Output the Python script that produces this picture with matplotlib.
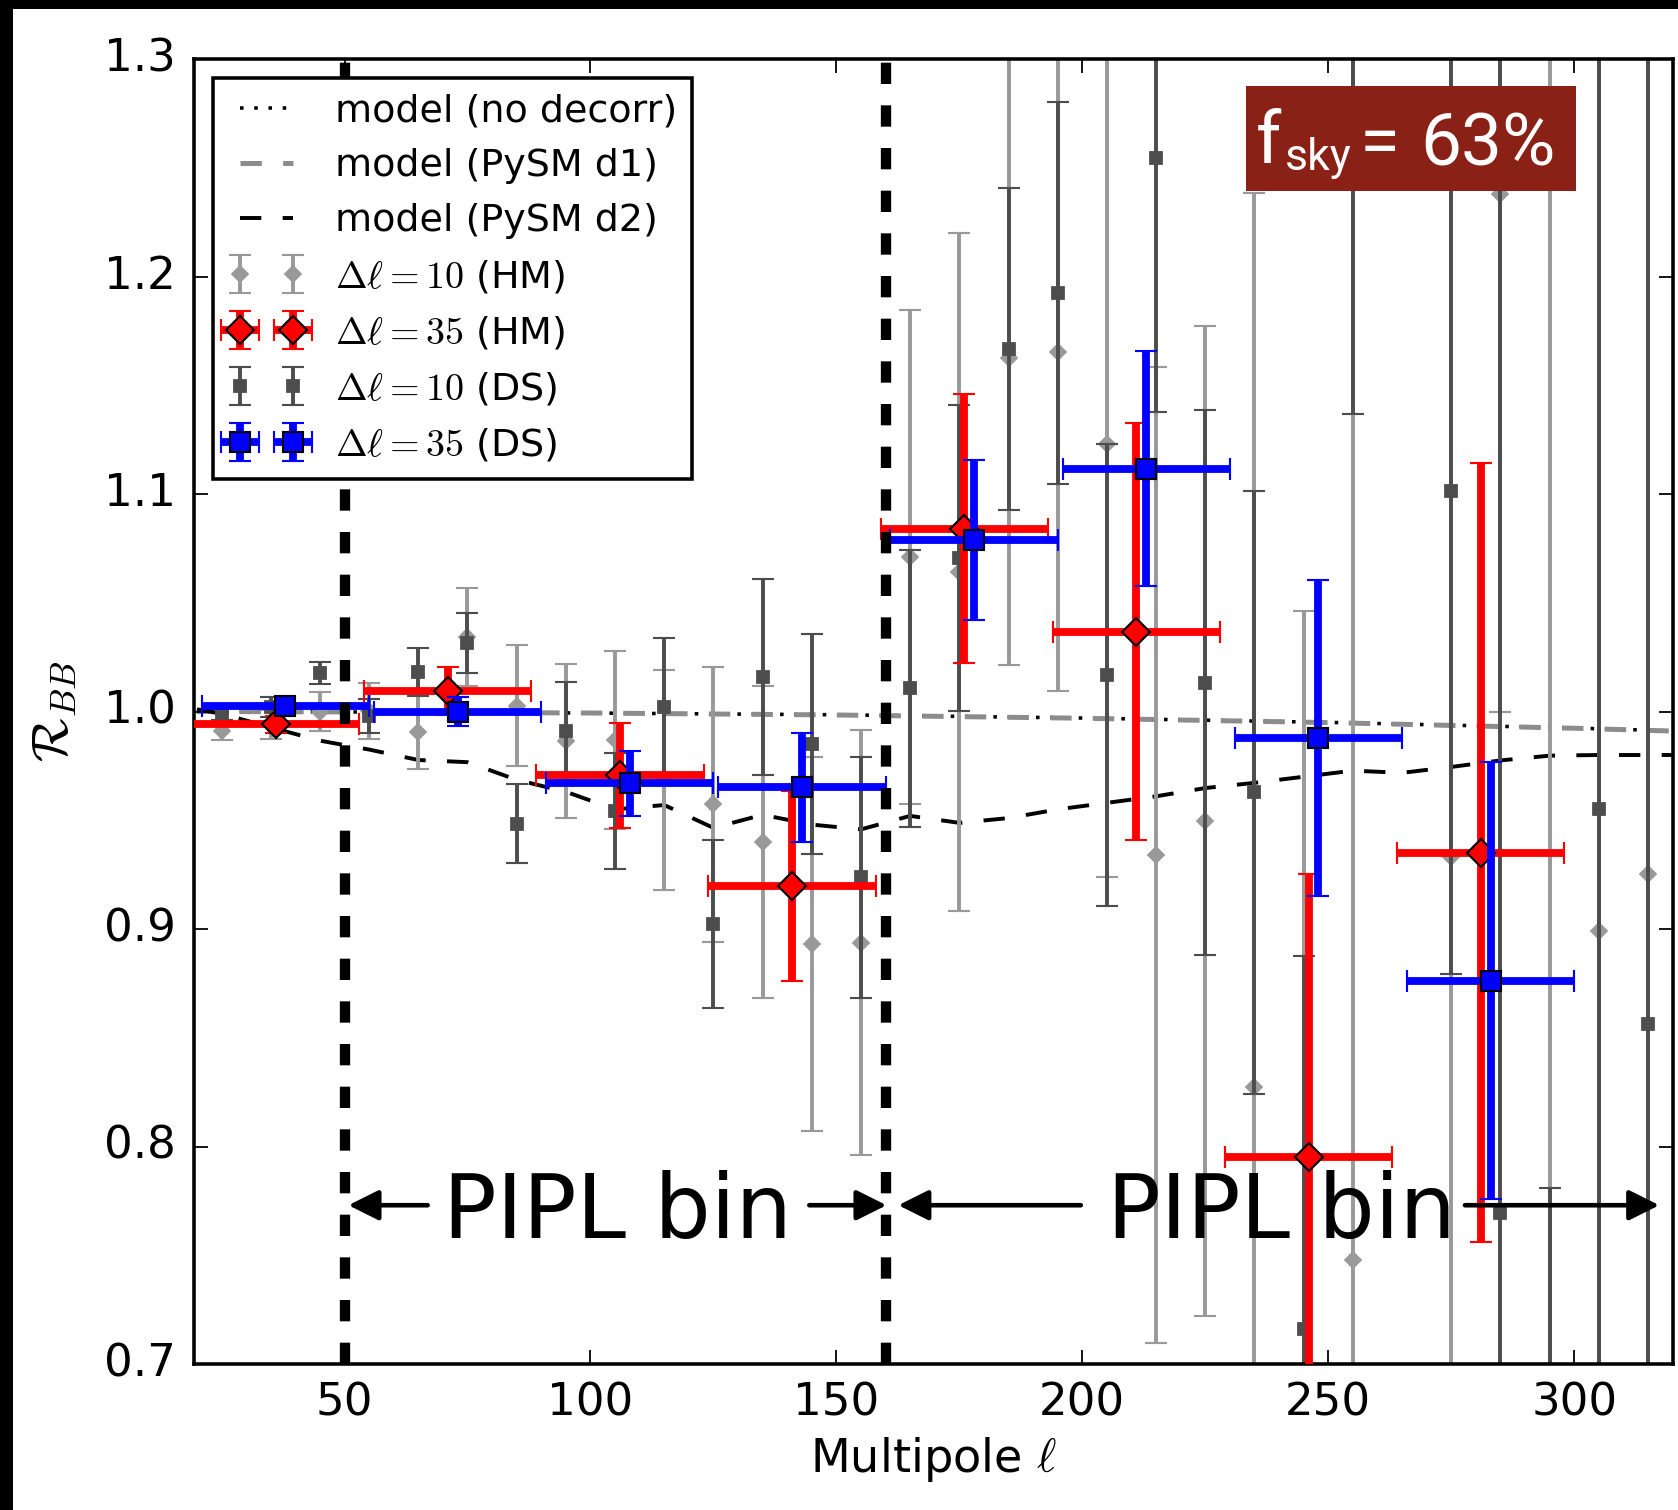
import numpy as np
import matplotlib
matplotlib.use("Agg")
import matplotlib.pyplot as plt
from matplotlib.patches import Rectangle

# ---------------------------------------------------------------- data
# Delta ell = 10 bins (half-mission and detector-set splits)
ell_10 = [25, 35, 45, 55, 65, 75, 85, 95, 105, 115, 125, 135, 145, 155, 165,
          175, 185, 195, 205, 215, 225, 235, 245, 255, 265, 275, 285, 295, 305, 315]

r_hm10 = [0.991, 0.994, 1.000, 1.0002, 0.9904, 1.0341, 1.0027, 0.9864, 0.987, 0.9686,
          0.9574, 0.9402, 0.8933, 0.8936, 1.0710, 1.0642, 1.1623, 1.1652, 1.1228, 0.9341,
          0.9498, 0.8273, 0.66, 0.748, np.nan, 0.933, 1.238, 1.35, 0.899, 0.9251]
e_hm10 = [0.004, 0.0066, 0.0088, 0.0128, 0.017, 0.0225, 0.0277, 0.0355, 0.041, 0.0505,
          0.0632, 0.0717, 0.086, 0.0977, 0.1137, 0.156, 0.141, 0.156, 0.199, 0.2243,
          0.2276, 0.411, 0.386, 0.60, np.nan, 0.55, 0.238, 0.70, 0.50, 0.50]

r_ds10 = [0.999, 1.002, 1.0178, 0.9978, 1.0183, 1.0316, 0.9485, 0.9911, 0.9543, 1.002,
          0.9024, 1.0159, 0.9851, 0.9237, 1.0106, 1.0706, 1.1668, 1.1925, 1.0168, 1.2544,
          1.0133, 0.9628, 0.716, 1.45, np.nan, 1.1015, 0.7696, 0.62, 0.9554, 0.8564]
e_ds10 = [0.003, 0.0046, 0.005, 0.0078, 0.011, 0.0138, 0.0183, 0.0226, 0.0265, 0.032,
          0.0387, 0.045, 0.0504, 0.0552, 0.0637, 0.0705, 0.074, 0.0877, 0.106, 0.1167,
          0.1254, 0.1387, 0.1716, 0.313, np.nan, 0.2224, 0.60, 0.161, 0.60, 0.60]

# Delta ell = 35 bins
ell_35_hm = [36, 71, 106, 141, 176, 211, 246, 281]
ell_35_ds = [38, 73, 108, 143, 178, 213, 248, 283]
half_width_35 = 17

r_hm35 = [0.9941, 1.0094, 0.9706, 0.9197, 1.0841, 1.0367, 0.7954, 0.9351]
e_hm35 = [0.004, 0.011, 0.0243, 0.0436, 0.062, 0.096, 0.130, 0.179]

r_ds35 = [1.0027, 0.9999, 0.967, 0.9651, 1.0787, 1.1116, 0.9877, 0.8763]
e_ds35 = [0.0025, 0.0067, 0.0149, 0.025, 0.0368, 0.054, 0.0726, 0.1003]

# model curves
ell_nodecorr = [20, 50, 100, 150, 200, 250, 300, 320]
r_nodecorr = [1.0000, 0.9998, 0.9993, 0.9985, 0.9970, 0.9950, 0.9924, 0.9911]

ell_d1 = [20, 50, 100, 150, 200, 250, 300, 320]
r_d1 = [1.0000, 0.9998, 0.9993, 0.9984, 0.9969, 0.9949, 0.9923, 0.9910]

ell_d2 = [20, 25, 35, 45, 55, 65, 75, 85, 95, 105, 115, 125, 135, 145, 155, 165,
          175, 185, 195, 205, 215, 225, 235, 245, 255, 265, 275, 285, 295, 305, 315, 320]
r_d2 = [1.001, 0.999, 0.9927, 0.9866, 0.9825, 0.9777, 0.9767, 0.9686, 0.9631, 0.955,
        0.957, 0.9465, 0.9525, 0.948, 0.9458, 0.952, 0.9488, 0.951, 0.955, 0.958,
        0.961, 0.9648, 0.9672, 0.970, 0.9728, 0.9718, 0.9745, 0.9775, 0.9797, 0.980,
        0.980, 0.980]

pipl_edges = [50, 160]

# ---------------------------------------------------------------- style
plt.style.use("classic")
plt.rcParams.update({
    "figure.facecolor": "white",
    "savefig.facecolor": "white",
    "font.family": ["DejaVu Sans"],
    "mathtext.fontset": "cm",
    "lines.scale_dashes": False,
})

W, H, DPI = 1678, 1510, 256
fig = plt.figure(figsize=(W / DPI, H / DPI), dpi=DPI)
ax = fig.add_axes([194 / W, 1 - 1364 / H, (1672.5 - 194) / W, (1364 - 59) / H])


def ax_frac(px, py):
    """Pixel position in the saved image -> axes fraction."""
    return (px - 194) / 1478.5, 1 - (py - 59) / 1305


# model curves
l_nd, = ax.plot(ell_nodecorr, r_nodecorr, "k:", lw=1.0, zorder=1.5)
l_d1, = ax.plot(ell_d1, r_d1, "--", color="0.55", lw=1.4, zorder=1.6)
l_d2, = ax.plot(ell_d2, r_d2, "k--", lw=1.1, zorder=1.7)

# data points
e1 = ax.errorbar(ell_10, r_hm10, yerr=e_hm10, fmt="D", color="0.6", mec="0.6",
                 ms=3.0, elinewidth=1.1, capsize=3, capthick=0.6, zorder=2.0)
e3 = ax.errorbar(ell_10, r_ds10, yerr=e_ds10, fmt="s", color="0.3", mec="0.3",
                 ms=3.2, elinewidth=1.1, capsize=3, capthick=0.6, zorder=2.1)
e2 = ax.errorbar(ell_35_hm, r_hm35, yerr=e_hm35, xerr=half_width_35, fmt="D",
                 color="r", mfc="r", mec="k", ms=5.4, mew=0.6, elinewidth=2.2,
                 capsize=3, capthick=0.5, zorder=3.0)
e4 = ax.errorbar(ell_35_ds, r_ds35, yerr=e_ds35, xerr=half_width_35, fmt="s",
                 color="b", mfc="b", mec="k", ms=5.5, mew=0.6, elinewidth=2.2,
                 capsize=3, capthick=0.5, zorder=3.1)

# PIPL bin boundaries
for edge in pipl_edges:
    ax.axvline(edge, color="k", ls="--", lw=2.9, zorder=4)

arrow_y = 0.773
arrow_kw = dict(arrowstyle="-|>", color="k", lw=1.3, mutation_scale=18,
                shrinkA=0, shrinkB=0)
for start, tip in [(66.9, 50.8), (144.5, 160.2), (199.7, 162.6), (277.8, 317.3)]:
    ax.annotate("", xy=(tip, arrow_y), xytext=(start, arrow_y),
                arrowprops=arrow_kw, zorder=4.5)
for xc in [105.4, 240.4]:
    ax.text(xc, 0.758, "PIPL bin", fontsize=25, ha="center", va="baseline",
            zorder=4.5)

# sky fraction tag
ax.add_patch(Rectangle((0.7117, 0.8991), 0.2227, 0.0802, transform=ax.transAxes,
                       facecolor="#8a2116", edgecolor="none", zorder=10,
                       clip_on=False))
tag_kw = dict(transform=ax.transAxes, family="Roboto", color="white",
              ha="left", va="baseline", zorder=11)
ax.text(*ax_frac(1256, 163), "f", fontsize=20.5, **tag_kw)
ax.text(*ax_frac(1285, 170), "sky", fontsize=12.5, **tag_kw)
ax.text(*ax_frac(1360, 165), "=", fontsize=20.5, **tag_kw)
ax.text(*ax_frac(1420, 165), "63%", fontsize=20.5, **tag_kw)

# axes
ax.set_xlim(19.4, 320)
ax.set_ylim(0.7, 1.3)
ax.set_xticks([50, 100, 150, 200, 250, 300])
ax.set_yticks([0.7, 0.8, 0.9, 1.0, 1.1, 1.2, 1.3])
ax.tick_params(which="major", direction="in", length=4, labelsize=12.7, pad=5,
               top=True, right=True)
ax.minorticks_off()
ax.set_xlabel(r"Multipole $\ell$", fontsize=13, labelpad=3)
ax.set_ylabel(r"$\mathcal{R}_{BB}$", fontsize=14.4, labelpad=7)

leg = ax.legend([l_nd, l_d1, l_d2, e1, e2, e3, e4],
                ["model (no decorr)", "model (PySM d1)", "model (PySM d2)",
                 r"$\Delta\ell = 10$ (HM)", r"$\Delta\ell = 35$ (HM)",
                 r"$\Delta\ell = 10$ (DS)", r"$\Delta\ell = 35$ (DS)"],
                loc="upper left", fontsize=10.7, numpoints=2, handlelength=2,
                handletextpad=0.8, borderpad=0.4, labelspacing=0.5,
                fancybox=False)
leg.get_frame().set_linewidth(1.0)
leg.get_frame().set_edgecolor("k")

# black frame along the top and left edges
fig.patches.append(Rectangle((0, 1 - 9 / H), 1, 9 / H, transform=fig.transFigure,
                             facecolor="k", edgecolor="none", zorder=20))
fig.patches.append(Rectangle((0, 0), 13 / W, 1, transform=fig.transFigure,
                             facecolor="k", edgecolor="none", zorder=20))

fig.savefig("out.png", dpi=DPI)
